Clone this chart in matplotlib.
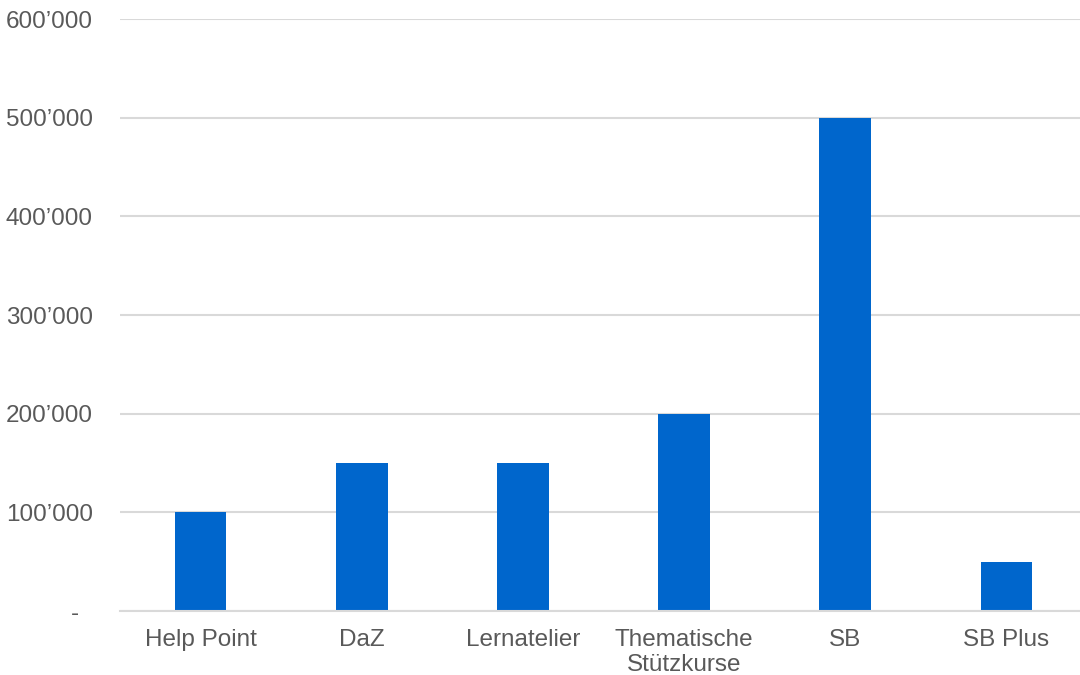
import matplotlib
matplotlib.use("Agg")
import matplotlib.pyplot as plt
from matplotlib.ticker import FuncFormatter

# data
categories = ["Help Point", "DaZ", "Lernatelier", "Thematische\nStützkurse", "SB", "SB Plus"]
values = [100000, 150000, 150000, 200000, 500000, 50000]
yticks = [0, 100000, 200000, 300000, 400000, 500000, 600000]

plt.rcParams['font.family'] = ['Liberation Sans', 'DejaVu Sans']

fig = plt.figure(figsize=(10.8, 6.75), dpi=100)
ax = fig.add_axes([120 / 1080, 64 / 675, 967 / 1080, 592 / 675])

x = range(len(categories))
ax.bar(x, values, width=0.32, color="#0066CC", zorder=3)

ax.set_xlim(-0.5, len(categories) - 0.5)
ax.set_ylim(0, 600000)
ax.set_yticks(yticks)


def fmt(v, pos):
    if v == 0:
        return "-  "
    return f"{int(v):,}".replace(",", "\u2019")


ax.yaxis.set_major_formatter(FuncFormatter(fmt))
ax.set_xticks(list(x))
ax.set_xticklabels(categories, linespacing=1.15)

ax.grid(axis="y", color="#D9D9D9", linewidth=1.5, zorder=0)
for s in ["top", "right", "left"]:
    ax.spines[s].set_visible(False)
ax.spines["bottom"].set_color("#D9D9D9")
ax.spines["bottom"].set_linewidth(1.5)
ax.spines["bottom"].set_zorder(4)

ax.tick_params(axis="both", length=0, labelsize=17.5, labelcolor="#595959")
ax.tick_params(axis="y", pad=19.5)
ax.tick_params(axis="x", pad=13)

fig.savefig("out.png", dpi=100)
